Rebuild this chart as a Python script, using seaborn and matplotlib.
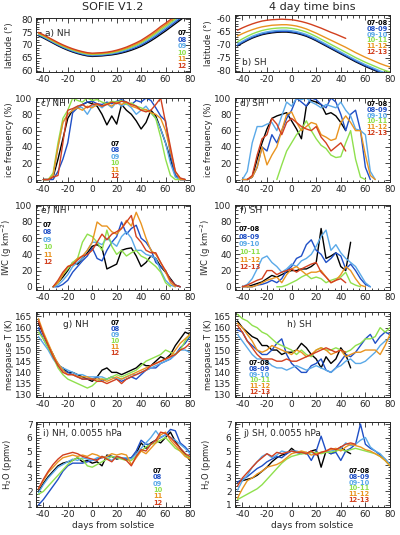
import numpy as np
import pandas as pd
import matplotlib
matplotlib.use('Agg')
import matplotlib.pyplot as plt
from matplotlib.ticker import MultipleLocator
import seaborn as sns

N = np.nan

# 4-day bins, days from solstice
DAYS = list(range(-44, 81, 4))

NH_YEARS = ['07', '08', '09', '10', '11', '12']
SH_YEARS = ['07-08', '08-09', '09-10', '10-11', '11-12', '12-13']
COLORS = ['#000000', '#1f4fc6', '#5aa9e8', '#8fe04d', '#e99420', '#d2401f']

# a) NH latitude (deg)
NH_LAT = {
    '07': [73.6, 72.7, 71.7, 70.7, 69.7, 68.8, 68.0, 67.3, 66.7, 66.2, 65.8, 65.6, 65.7, 65.8, 66.0, 66.2,
           66.5, 66.9, 67.4, 68.0, 68.7, 69.5, 70.5, 71.6, 72.8, 74.1, 75.4, 76.8, 78.2, 79.6, 81.0, 82.4],
    '08': [73.85, 72.95, 71.95, 70.95, 69.95, 69.05, 68.25, 67.55, 66.95, 66.45, 66.05, 65.85, 65.95, 66.05, 66.25, 66.5,
           66.8, 67.2, 67.8, 68.4, 69.1, 70.0, 71.0, 72.1, 73.4, 74.7, 76.0, 77.4, 78.8, 80.2, 81.6, 83.0],
    '09': [74.1, 73.2, 72.2, 71.2, 70.2, 69.3, 68.5, 67.8, 67.2, 66.7, 66.3, 66.1, 66.2, 66.3, 66.5, 66.7,
           67.1, 67.6, 68.1, 68.8, 69.6, 70.4, 71.5, 72.7, 73.9, 75.3, 76.6, 78.0, 79.4, 80.8, 82.2, 83.6],
    '10': [74.35, 73.45, 72.45, 71.45, 70.45, 69.55, 68.75, 68.05, 67.45, 66.95, 66.55, 66.35, 66.45, 66.55, 66.75, 67.0,
           67.4, 67.9, 68.5, 69.2, 70.0, 70.9, 72.0, 73.2, 74.5, 75.9, 77.2, 78.6, 80.0, 81.4, 82.8, 84.2],
    '11': [74.6, 73.7, 72.7, 71.7, 70.7, 69.8, 69.0, 68.3, 67.7, 67.2, 66.8, 66.6, 66.7, 66.8, 67.0, 67.3,
           67.7, 68.2, 68.8, 69.6, 70.4, 71.3, 72.5, 73.7, 75.0, 76.5, 77.8, 79.2, 80.6, 82.0, 83.4, 84.8],
    '12': [74.85, 73.95, 72.95, 71.95, 70.95, 70.05, 69.25, 68.55, 67.95, 67.45, 67.05, 66.85, 66.95, 67.05, 67.25, 67.55,
           68.0, 68.55, 69.2, 70.0, 70.85, 71.8, 73.0, 74.25, 75.6, 77.1, 78.4, 79.8, 81.2, 82.6, 84.0, 85.4],
}

# b) SH latitude (deg)
SH_LAT = {
    '07-08': [-70.5, -69.4, -68.4, -67.5, -66.8, -66.2, -65.8, -65.5, -65.3, -65.2, -65.2, -65.4, -65.7, -66.2, -66.8, -67.6,
              -68.5, -69.5, -70.5, -71.5, -72.5, -73.5, -74.5, -75.5, -76.5, -77.4, -78.3, -79.1, -79.9, -80.7, -81.4, -82.0],
    '08-09': [-70.2, -69.1, -68.1, -67.2, -66.5, -65.9, -65.5, -65.2, -65.0, -64.9, -64.9, -65.1, -65.4, -65.9, -66.5, -67.3,
              -68.2, -69.2, -70.2, -71.2, -72.2, -73.2, -74.2, -75.2, -76.2, -77.1, -78.0, -78.8, -79.6, -80.4, -81.1, -81.7],
    '09-10': [-69.8, -68.7, -67.7, -66.8, -66.1, -65.5, -65.1, -64.8, -64.6, -64.5, -64.5, -64.7, -65.0, -65.5, -66.1, -66.9,
              -67.8, -68.8, -69.8, -70.8, -71.8, -72.8, -73.8, -74.8, -75.8, -76.7, -77.6, -78.4, -79.2, -80.0, -80.7, -81.3],
    '10-11': [-68.9, -67.8, -66.8, -65.9, -65.2, -64.6, -64.2, -63.9, -63.7, -63.6, -63.6, -63.8, -64.1, -64.6, -65.2, -66.0,
              -66.9, -67.9, -68.9, -69.9, -70.9, -71.9, -72.9, -73.9, -74.9, -75.8, -76.7, -77.5, -78.3, -79.1, -79.8, -80.4],
    '11-12': [-66.7, -65.8, -65.0, -64.3, -63.7, -63.2, -62.9, -62.6, -62.5, -62.4, -62.4, -62.6, -62.9, -63.4, -64.0, -64.8,
              -65.6, -66.5, -67.4, -68.3, -69.2, -70.1, -71.0, -72.0, -73.0, -73.9, -74.8, -75.6, -76.4, -77.2, -77.9, -78.5],
    '12-13': [-64.5, -63.6, -62.8, -62.1, -61.5, -61.0, -60.7, -60.5, -60.4, -60.3, -60.4, -60.5, -60.8, -61.2, -61.7, -62.3,
              -63.0, -63.7, -64.5, -65.3, -66.0, -66.8, -67.6, N, N, N, N, N, N, N, N, N],
}

# c) NH ice frequency (%)
NH_ICE = {
    '07': [N, 0, 0, 3, 25, 50, 75, 85, 88, 92, 95, 93, 90, 80, 67, 78, 68, 92, 85, 80, 72, 62, 70, 85, 78, 62, 45, 25, 5, 0, 0, N],
    '08': [N, 0, 0, 0, 10, 25, 45, 82, 88, 92, 95, 96, 93, 92, 95, 93, 96, 98, 95, 92, 97, 95, 100, 97, 88, 78, 72, 30, 5, 0, 0, N],
    '09': [N, 0, 0, 5, 40, 70, 80, 85, 90, 88, 80, 90, 92, 88, 93, 88, 95, 90, 93, 88, 80, 85, 90, 82, 75, 62, 45, 20, 3, 0, 0, N],
    '10': [N, 0, 0, 8, 45, 75, 85, 100, 97, 95, 100, 97, 98, 95, 93, 96, 95, 97, 92, 94, 90, 88, 85, 82, 75, 52, 25, 5, 0, 0, N, N],
    '11': [N, 0, 0, 5, 40, 70, 80, 85, 88, 85, 90, 88, 92, 90, 93, 90, 95, 92, 95, 90, 88, 85, 86, 82, 80, 75, 60, 35, 10, 0, 0, N],
    '12': [N, 0, 0, 3, 5, 45, 85, 87, 90, 92, 88, 92, 93, 90, 92, 95, 93, 96, 95, 92, 90, 85, 83, 85, 92, 100, 70, 40, 10, 2, 0, N],
}

# d) SH ice frequency (%)
SH_ICE = {
    '07-08': [N, N, 0, 3, 25, 45, 62, 75, 78, 80, 82, 72, 62, 50, 90, 97, 95, 92, 80, 82, 78, 70, 60, N, N, N, N, N, N, N, N, N],
    '08-09': [N, 0, 0, 3, 15, 40, 35, 55, 45, 60, 75, 85, 100, 95, 90, 100, 98, 92, 88, 100, 95, 80, 60, 80, 85, 60, 15, 0, N, N, N, N],
    '09-10': [N, 0, 10, 45, 65, 65, 68, 70, 60, 78, 95, 90, 100, 98, 100, 95, 92, 88, 92, 90, 88, 95, 85, 78, 62, 60, 55, 10, 0, N, N, N],
    '10-11': [N, N, N, N, N, N, N, N, 0, 18, 35, 45, 55, 62, 72, 60, 50, 42, 38, 30, 27, 28, 45, 60, 25, 3, 0, N, N, N, N, N],
    '11-12': [N, 0, 0, 3, 15, 40, 18, 30, 40, 60, 80, 83, 70, 60, 65, 70, 68, 55, 52, 48, 50, 70, 78, 70, 60, 60, 30, 5, 0, N, N, N],
    '12-13': [N, N, 0, 5, 30, 50, 55, 75, 68, 55, 70, 75, 70, 65, 62, 60, 65, 52, 45, 35, 40, 45, 35, N, N, N, N, N, N, N, N, N],
}

# e) NH ice water content (g km-2)
NH_IWC = {
    '07': [N, N, N, 0, 5, 12, 20, 30, 28, 35, 42, 50, 52, 48, 22, 25, 28, 45, 47, 48, 38, 25, 30, 38, 35, 25, 18, 10, 2, 0, N, N],
    '08': [N, N, N, 0, 0, 3, 8, 18, 25, 32, 38, 48, 35, 32, 45, 55, 62, 80, 65, 72, 76, 60, 55, 46, 30, 25, 20, 8, 2, 0, N, N],
    '09': [N, N, N, 0, 2, 8, 15, 25, 30, 35, 45, 55, 55, 52, 60, 55, 50, 62, 68, 60, 45, 45, 40, 38, 35, 20, 8, 2, 0, N, N, N],
    '10': [N, N, N, 0, 5, 15, 22, 30, 35, 55, 65, 62, 55, 45, 70, 50, 40, 45, 38, 42, 45, 38, 35, 30, 25, 18, 5, 0, N, N, N, N],
    '11': [N, N, N, 0, 5, 15, 25, 28, 35, 38, 45, 55, 80, 75, 75, 68, 65, 72, 82, 75, 92, 78, 60, 45, 40, 30, 18, 5, 0, N, N, N],
    '12': [N, N, N, 0, 8, 18, 25, 27, 33, 38, 40, 45, 55, 65, 58, 65, 68, 72, 80, 88, 62, 55, 45, 42, 42, 30, 20, 8, 2, 0, N, N],
}

# f) SH ice water content (g km-2)
SH_IWC = {
    '07-08': [N, N, 0, 2, 4, 6, 10, 14, 12, 15, 18, 20, 20, 22, 22, 25, 30, 72, 35, 38, 42, 25, 20, 55, N, N, N, N, N, N, N, N],
    '08-09': [N, 0, 0, 0, 2, 3, 5, 8, 5, 10, 20, 25, 35, 38, 52, 58, 45, 40, 30, 35, 42, 38, 22, 28, 20, 10, 3, 0, N, N, N, N],
    '09-10': [N, 0, 3, 10, 22, 35, 38, 30, 25, 18, 22, 28, 25, 32, 35, 40, 50, 62, 70, 45, 52, 42, 35, 30, 25, 15, 5, 0, N, N, N, N],
    '10-11': [N, N, N, N, N, N, N, N, 0, 0, 2, 5, 8, 12, 15, 10, 12, 10, 5, 8, 10, 12, 18, 5, 2, 0, N, N, N, N, N, N],
    '11-12': [N, 0, 0, 0, 2, 5, 8, 10, 12, 5, 15, 22, 25, 20, 15, 18, 18, 20, 12, 5, 8, 15, 25, 20, 10, 2, 0, N, N, N, N, N],
    '12-13': [N, 0, 2, 5, 8, 10, 20, 20, 15, 18, 20, 22, 18, 22, 25, 28, 30, 18, 12, 5, 8, 10, 5, N, N, N, N, N, N, N, N, N],
}

# g) NH mesopause temperature (K)
NH_T = {
    '07': [162, 157, 152, 148, 143, 142, 140, 140, 139, 138, 137, 136, 138, 141, 142, 140,
           140, 139, 140, 141, 142, 144, 143, 143, 145, 147, 146, 148, 152, 155, 158, 157],
    '08': [160, 155, 151, 147, 144, 141, 140, 139, 138, 137, 137, 137, 138, 136, 137, 138,
           137, 136, 137, 138, 137, 139, 141, 142, 142, 144, 145, 146, 148, 151, 153, 156],
    '09': [156, 153, 150, 146, 143, 142, 141, 140, 139, 139, 138, 138, 138, 138, 137, 138,
           137, 137, 138, 139, 139, 140, 141, 142, 143, 144, 145, 146, 148, 150, 150, 149],
    '10': [158, 155, 151, 147, 142, 139, 137, 136, 135, 134, 133, 134, 136, 137, 137, 138,
           139, 138, 139, 140, 141, 143, 145, 146, 147, 148, 150, 149, 148, 150, 154, 157],
    '11': [164, 158, 153, 148, 144, 141, 139, 139, 138, 138, 138, 137, 137, 137, 136, 137,
           138, 137, 138, 139, 140, 141, 142, 143, 144, 145, 146, 147, 150, 153, 155, 157],
    '12': [163, 157, 152, 147, 143, 140, 139, 139, 138, 137, 137, 137, 136, 136, 135, 136,
           137, 135, 137, 138, 139, 140, 141, 143, 144, 145, 146, 147, 148, 150, 151, 153],
}

# h) SH mesopause temperature (K)
SH_T = {
    '07-08': [163, 160, 158, 156, 155, 152, 152, 150, 150, 148, 149, 149, 150, 153, 151, 148,
              146, 142, 147, 144, 146, 151, 148, 142, N, N, N, N, N, N, N, N],
    '08-09': [159, 158, 154, 152, 150, 148, 148, 150, 153, 155, 148, 144, 142, 140, 140, 143,
              144, 146, 141, 140, 142, 145, 148, 147, 149, 152, 155, 157, 153, 156, 158, 157],
    '09-10': [157, 154, 151, 148, 146, 146, 145, 143, 142, 142, 141, 142, 143, 142, 141, 142,
              143, 142, 141, 140, 142, 143, 145, 146, 144, 144, 145, 147, 149, 152, 154, 155],
    '10-11': [166, 164, 163, 161, 160, 158, 157, 155, 153, 152, 151, 150, 148, 150, 148, 147,
              150, 151, 150, 150, 151, 150, 149, 150, 152, 153, 155, 155, 156, 160, 158, 160],
    '11-12': [162, 160, 157, 154, 150, 149, 150, 152, 151, 150, 149, 148, 150, 149, 147, 148,
              150, 151, 150, 148, 149, 150, 147, 148, 149, 149, 150, 150, 150, 148, 152, 157],
    '12-13': [161, 158, 154, 151, 148, 146, 146, 146, 145, 145, 146, 145, 145, 146, 147, 148,
              149, 150, 151, 150, 149, 150, 149, N, N, N, N, N, N, N, N, N],
}

# i) NH water vapour at 0.0055 hPa (ppmv)
NH_H2O = {
    '07': [2.0, 2.6, 3.1, 3.5, 3.9, 4.1, 4.2, 4.3, 4.5, 4.2, 4.3, 4.1, 4.2, 3.9, 4.7, 4.6,
           4.4, 4.5, 4.4, 4.5, 4.8, 5.6, 5.2, 5.6, 5.8, 5.6, 6.0, 6.4, 5.7, 5.2, 4.8, 4.3],
    '08': [1.0, 1.4, 1.9, 2.4, 2.9, 3.5, 3.9, 4.1, 4.1, 4.1, 4.2, 4.3, 4.4, 4.5, 4.6, 4.6,
           4.5, 4.5, 4.4, 4.5, 5.0, 5.8, 5.5, 5.5, 5.8, 6.0, 6.2, 6.6, 6.5, 5.6, 5.3, 4.9],
    '09': [1.9, 2.5, 3.0, 3.4, 3.8, 4.0, 4.2, 4.4, 4.3, 4.5, 4.4, 4.3, 4.5, 4.6, 4.5, 4.3,
           4.6, 4.5, 4.5, 4.4, 4.8, 5.2, 5.6, 6.0, 6.5, 6.0, 6.2, 6.0, 5.8, 5.5, 5.2, 4.8],
    '10': [1.8, 2.0, 2.4, 2.8, 3.2, 3.6, 4.0, 4.3, 4.5, 4.4, 3.9, 3.8, 4.0, 4.2, 4.4, 4.6,
           4.5, 4.4, 4.3, 4.3, 4.6, 5.0, 5.3, 5.5, 5.6, 5.8, 6.0, 5.6, 5.2, 5.0, 4.7, 4.5],
    '11': [2.2, 2.8, 3.4, 3.8, 4.2, 4.5, 4.6, 4.7, 4.6, 4.7, 4.6, 4.8, 4.7, 4.5, 4.6, 4.8,
           4.7, 4.8, 4.7, 4.0, 4.5, 5.0, 4.8, 5.2, 5.6, 6.2, 6.4, 5.8, 5.4, 5.0, 4.6, 4.4],
    '12': [2.2, 2.9, 3.5, 4.0, 4.4, 4.7, 4.8, 4.9, 4.8, 4.6, 4.5, 4.4, 4.3, 4.6, 4.4, 4.2,
           4.6, 4.5, 4.3, 3.9, 4.6, 5.1, 5.0, 5.5, 5.8, 6.4, 6.3, 6.0, 5.6, 5.2, 4.8, 4.6],
}

# j) SH water vapour at 0.0055 hPa (ppmv)
SH_H2O = {
    '07-08': [2.7, 2.8, 2.9, 3.0, 3.2, 3.5, 3.8, 4.2, 4.5, 4.7, 4.8, 5.2, 4.9, 4.9, 4.8, 5.0,
              5.1, 3.8, 5.0, 4.8, 5.0, 5.3, 5.0, 4.8, N, N, N, N, N, N, N, N],
    '08-09': [2.7, 2.9, 3.1, 3.4, 3.7, 3.9, 4.2, 4.4, 4.6, 4.5, 4.8, 5.0, 4.9, 4.8, 4.9, 4.3,
              5.0, 6.1, 5.0, 4.8, 4.9, 4.3, 5.0, 5.2, 5.5, 7.0, 5.5, 5.2, 5.0, 4.7, 4.4, 4.0],
    '09-10': [2.1, 2.8, 3.2, 3.8, 4.2, 4.6, 4.8, 4.5, 4.7, 5.0, 4.9, 5.0, 5.0, 4.9, 4.8, 4.9,
              4.8, 4.9, 4.9, 5.0, 5.1, 5.2, 5.6, 5.4, 5.5, 5.8, 6.0, 5.3, 5.0, 4.8, 4.4, 4.0],
    '10-11': [1.4, 1.6, 1.8, 2.0, 2.2, 2.5, 2.9, 3.3, 3.7, 4.1, 4.4, 4.6, 4.7, 4.8, 4.8, 4.9,
              4.9, 4.8, 4.9, 4.9, 5.0, 5.1, 5.0, 5.1, 5.2, 5.1, 5.0, 4.9, 4.8, 4.6, 4.3, 3.9],
    '11-12': [1.5, 2.2, 2.8, 3.0, 3.3, 3.5, 3.8, 3.9, 4.0, 4.2, 4.5, 4.8, 4.9, 5.0, 4.9, 4.7,
              4.8, 4.9, 5.0, 5.1, 5.2, 5.0, 5.3, 5.5, 5.4, 5.3, 5.1, 5.0, 4.8, 4.6, 4.3, 3.9],
    '12-13': [2.4, 3.0, 3.4, 3.8, 4.2, 4.5, 4.8, 4.6, 4.9, 4.8, 4.9, 5.0, 4.9, 4.9, 4.8, 5.0,
              4.7, 4.9, 5.0, 5.2, 5.1, 5.3, 5.5, 5.6, 5.5, N, N, N, N, N, N, N],
}


sns.set_style('ticks')
plt.rcParams['font.family'] = ['DejaVu Sans']
plt.rcParams['axes.unicode_minus'] = False
plt.rcParams['axes.linewidth'] = 0.7
plt.rcParams['mathtext.default'] = 'regular'

W, H = 400, 535
fig = plt.figure(figsize=(W / 100, H / 100), dpi=100)


def make_ax(x0, x1, y0, y1):
    # pixel box -> figure fraction
    return fig.add_axes([x0 / W, 1 - y1 / H, (x1 - x0) / W, (y1 - y0) / H])


def draw_panel(ax, series, years, ylim, ystep, yminor, ylabel, tag, tag_xy,
               leg_xy, leg_step, leg_ha, xlabel=False):
    df = pd.DataFrame({'day': DAYS, **series})
    long = df.melt('day', var_name='season', value_name='value').dropna()
    sns.lineplot(data=long, x='day', y='value', hue='season', hue_order=years,
                 palette=dict(zip(years, COLORS)), estimator=None, sort=False,
                 lw=1.0, legend=False, ax=ax)

    ax.set_xlim(-46, 80)
    ax.set_ylim(*ylim)
    ax.xaxis.set_major_locator(MultipleLocator(20))
    ax.xaxis.set_minor_locator(MultipleLocator(5))
    ax.yaxis.set_major_locator(MultipleLocator(ystep))
    ax.yaxis.set_minor_locator(MultipleLocator(yminor))
    ax.tick_params(which='both', direction='in', top=True, right=True,
                   labelsize=6.5, width=0.6, pad=2.5)
    ax.tick_params(which='major', length=3.5)
    ax.tick_params(which='minor', length=1.8)

    ax.set_ylabel(ylabel, fontsize=6)
    ax.yaxis.set_label_coords(-0.145, 0.5)
    ax.set_xlabel('days from solstice' if xlabel else '', fontsize=6.5, labelpad=1)

    ax.text(tag_xy[0], tag_xy[1], tag, transform=ax.transAxes, fontsize=6.5,
            va='center', ha='left')
    for i, (yr, c) in enumerate(zip(years, COLORS)):
        ax.text(leg_xy[0], leg_xy[1] - i * leg_step, yr, color=c, transform=ax.transAxes,
                fontsize=4.8, fontweight='bold', ha=leg_ha, va='center')


LX = (36, 190)
RX = (235, 390)

ax = make_ax(*LX, 18, 72)
draw_panel(ax, NH_LAT, NH_YEARS, (59.6, 80.4), 5, 1, 'latitude (°)', 'a) NH', (0.06, 0.72),
           (0.98, 0.72), 0.122, 'right')
ax = make_ax(*RX, 15, 72)
draw_panel(ax, SH_LAT, SH_YEARS, (-80.4, -58.7), 5, 1, 'latitude (°)', 'b) SH', (0.045, 0.175),
           (0.985, 0.86), 0.102, 'right')

ax = make_ax(*LX, 98, 182)
draw_panel(ax, NH_ICE, NH_YEARS, (-3, 100), 20, 5, 'ice frequency (%)', 'c) NH', (0.035, 0.94),
           (0.513, 0.452), 0.076, 'center')
ax = make_ax(*RX, 98, 182)
draw_panel(ax, SH_ICE, SH_YEARS, (-3, 100), 20, 5, 'ice frequency (%)', 'd) SH', (0.03, 0.93),
           (0.985, 0.929), 0.069, 'right')

ax = make_ax(*LX, 205, 290)
draw_panel(ax, NH_IWC, NH_YEARS, (-4, 101), 20, 5, 'IWC (g km$^{-2}$)', 'e) NH', (0.03, 0.94),
           (0.045, 0.765), 0.087, 'left')
ax = make_ax(*RX, 205, 290)
draw_panel(ax, SH_IWC, SH_YEARS, (-4, 101), 20, 5, 'IWC (g km$^{-2}$)', 'f) SH', (0.03, 0.94),
           (0.026, 0.718), 0.09, 'left')

ax = make_ax(*LX, 312, 397)
draw_panel(ax, NH_T, NH_YEARS, (129, 167), 5, 1, 'mesopause T (K)', 'g) NH', (0.175, 0.85),
           (0.513, 0.87), 0.07, 'center')
ax = make_ax(*RX, 312, 397)
draw_panel(ax, SH_T, SH_YEARS, (129, 167), 5, 1, 'mesopause T (K)', 'h) SH', (0.335, 0.85),
           (0.09, 0.40), 0.068, 'left')

ax = make_ax(*LX, 422, 507)
draw_panel(ax, NH_H2O, NH_YEARS, (0.85, 7.15), 1, 0.2, 'H$_2$O (ppmv)', 'i) NH, 0.0055 hPa',
           (0.045, 0.87), (0.79, 0.424), 0.075, 'center', xlabel=True)
ax = make_ax(*RX, 422, 507)
draw_panel(ax, SH_H2O, SH_YEARS, (0.85, 7.15), 1, 0.2, 'H$_2$O (ppmv)', 'j) SH, 0.0055 hPa',
           (0.05, 0.87), (0.80, 0.424), 0.068, 'center', xlabel=True)

fig.text(113 / W, 1 - 7 / H, 'SOFIE V1.2', ha='center', va='center', fontsize=8)
fig.text(312 / W, 1 - 7 / H, '4 day time bins', ha='center', va='center', fontsize=8)

fig.savefig('out.png', dpi=100)
